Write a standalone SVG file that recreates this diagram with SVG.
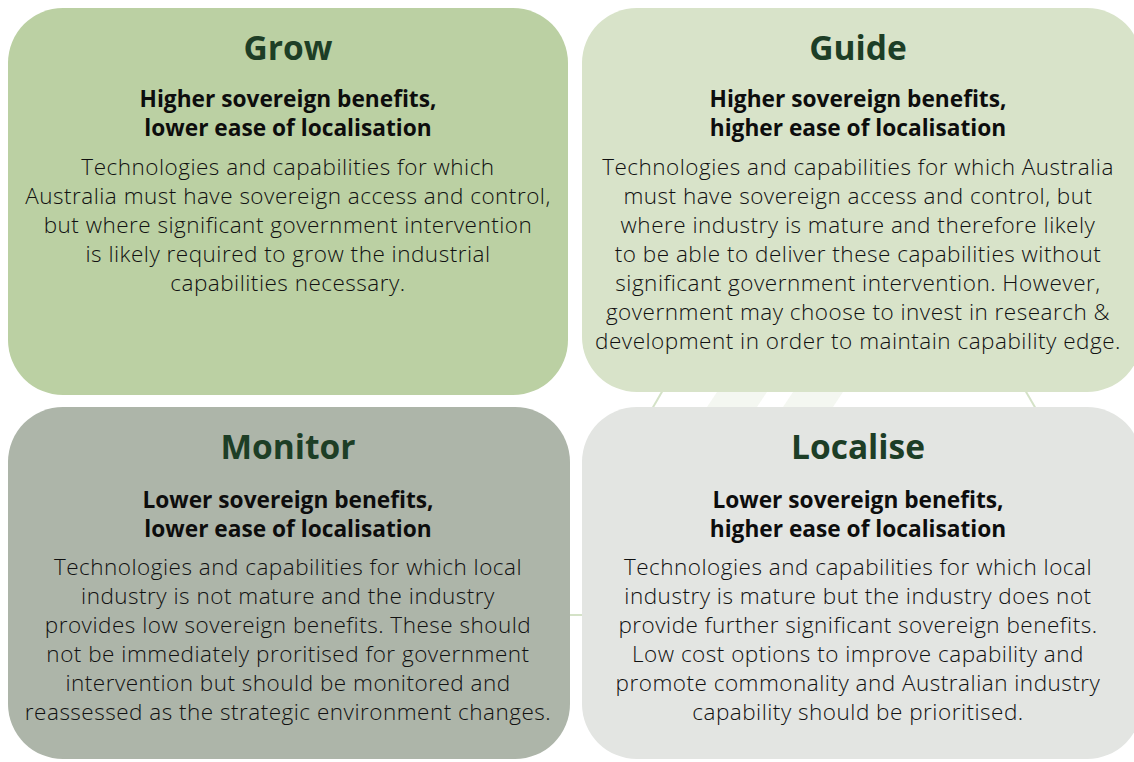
<svg xmlns="http://www.w3.org/2000/svg" width="1134" height="762" viewBox="0 0 1134 762">
<style>
.title{font-family:"Open Sans",Lato,sans-serif;font-weight:700;font-size:33.5px;fill:#1d3e26;text-anchor:middle}
.sub{font-family:"Open Sans",Lato,sans-serif;font-weight:700;font-size:22.7px;fill:#0d0d0d;text-anchor:middle}
.body{font-family:"Open Sans",Lato,sans-serif;font-weight:300;font-size:22.5px;letter-spacing:0.5px;fill:#111;text-anchor:middle}
.deco{stroke:#d4e2c7;stroke-width:2;fill:none}
</style>
<rect width="1134" height="762" fill="#ffffff"/>
<g id="background">
<polygon points="717,392 767,392 757,407 707,407" fill="#f4f7f1"/>
<polygon points="793,392 843,392 833,407 783,407" fill="#f4f7f1"/>
<line class="deco" x1="663" y1="390" x2="652" y2="409"/>
<line class="deco" x1="1025" y1="390" x2="1036" y2="409"/>
<line class="deco" x1="568" y1="615" x2="584" y2="615"/>
</g>
<g id="connectors"></g>
<g id="grow">
<rect x="8" y="8" width="560" height="387" rx="55" fill="#bbd0a3"/>
<text class="title" x="288" y="60">Grow</text>
<text class="sub" x="288" y="107">Higher sovereign benefits,</text>
<text class="sub" x="288" y="136">lower ease of localisation</text>
<text class="body" x="288" y="175">Technologies and capabilities for which</text>
<text class="body" x="288" y="204">Australia must have sovereign access and control,</text>
<text class="body" x="288" y="233">but where significant government intervention</text>
<text class="body" x="288" y="262">is likely required to grow the industrial</text>
<text class="body" x="288" y="291">capabilities necessary.</text>
</g>
<g id="guide">
<rect x="582" y="8" width="560" height="384" rx="55" fill="#d8e3c9"/>
<text class="title" x="858" y="60">Guide</text>
<text class="sub" x="858" y="107">Higher sovereign benefits,</text>
<text class="sub" x="858" y="136">higher ease of localisation</text>
<text class="body" x="858" y="175">Technologies and capabilities for which Australia</text>
<text class="body" x="858" y="204">must have sovereign access and control, but</text>
<text class="body" x="858" y="233">where industry is mature and therefore likely</text>
<text class="body" x="858" y="262">to be able to deliver these capabilities without</text>
<text class="body" x="858" y="291">significant government intervention. However,</text>
<text class="body" x="858" y="320">government may choose to invest in research &amp;</text>
<text class="body" x="858" y="349">development in order to maintain capability edge.</text>
</g>
<g id="monitor">
<rect x="8" y="407" width="562" height="352" rx="55" fill="#adb5a9"/>
<text class="title" x="288" y="459">Monitor</text>
<text class="sub" x="288" y="508">Lower sovereign benefits,</text>
<text class="sub" x="288" y="537">lower ease of localisation</text>
<text class="body" x="288" y="575">Technologies and capabilities for which local</text>
<text class="body" x="288" y="604">industry is not mature and the industry</text>
<text class="body" x="288" y="633">provides low sovereign benefits. These should</text>
<text class="body" x="288" y="662">not be immediately proritised for government</text>
<text class="body" x="288" y="691">intervention but should be monitored and</text>
<text class="body" x="288" y="720">reassessed as the strategic environment changes.</text>
</g>
<g id="localise">
<rect x="582" y="407" width="560" height="352" rx="55" fill="#e3e5e2"/>
<text class="title" x="858" y="459">Localise</text>
<text class="sub" x="858" y="508">Lower sovereign benefits,</text>
<text class="sub" x="858" y="537">higher ease of localisation</text>
<text class="body" x="858" y="575">Technologies and capabilities for which local</text>
<text class="body" x="858" y="604">industry is mature but the industry does not</text>
<text class="body" x="858" y="633">provide further significant sovereign benefits.</text>
<text class="body" x="858" y="662">Low cost options to improve capability and</text>
<text class="body" x="858" y="691">promote commonality and Australian industry</text>
<text class="body" x="858" y="720">capability should be prioritised.</text>
</g>
</svg>
